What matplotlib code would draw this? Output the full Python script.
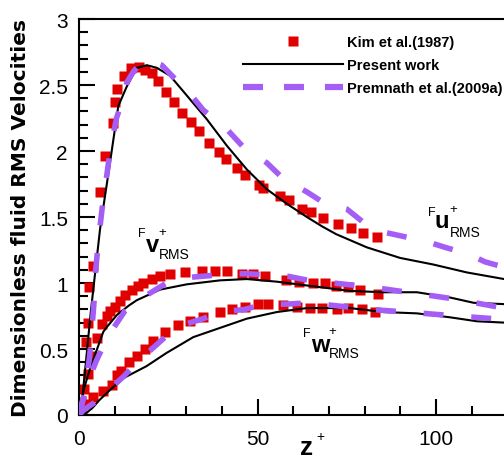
import numpy as np
import matplotlib
matplotlib.use("Agg")
import matplotlib.pyplot as plt
from matplotlib.lines import Line2D
from matplotlib.ticker import MultipleLocator, FuncFormatter
from matplotlib import font_manager

##############################################
### values ###
##############################################

# Kim et al. (1987) - red squares
kim_u_z = [2.0, 2.4, 2.9, 4.0, 5.9, 7.4, 9.4, 10.2, 10.7, 12.6, 14.5, 16.9, 18.4, 20.4,
           22.1, 24.3, 26.6, 28.7, 31.3, 33.5, 36.5, 39.1, 41.2, 44.3, 46.6, 50.3, 51.6,
           56.3, 58.7, 62.3, 64.9, 68.4, 72.5, 76.3, 79.5, 83.4]
kim_u = [0.55, 0.70, 0.97, 1.13, 1.69, 1.96, 2.21, 2.37, 2.47, 2.57, 2.63, 2.64, 2.61, 2.59,
         2.53, 2.45, 2.37, 2.29, 2.22, 2.15, 2.06, 1.99, 1.94, 1.87, 1.82, 1.74, 1.72,
         1.66, 1.63, 1.56, 1.54, 1.49, 1.45, 1.42, 1.38, 1.35]

kim_v_z = [0.5, 1.4, 2.5, 3.7, 4.9, 6.4, 7.7, 8.7, 10.0, 11.5, 13.0, 14.8, 16.4, 18.0,
           20.4, 22.7, 25.5, 29.7, 34.4, 38.1, 41.4, 45.6, 48.8, 52.1, 58.0, 61.5, 65.5,
           68.9, 72.0, 75.4, 78.7, 83.8]
kim_v = [0.10, 0.20, 0.31, 0.45, 0.58, 0.69, 0.75, 0.79, 0.82, 0.86, 0.91, 0.95, 0.98, 1.00,
         1.03, 1.05, 1.07, 1.08, 1.09, 1.09, 1.09, 1.07, 1.07, 1.05, 1.02, 1.01, 1.00,
         1.00, 0.98, 0.97, 0.95, 0.92]

kim_w_z = [0.7, 2.1, 4.0, 6.8, 9.2, 10.5, 11.7, 14.0, 16.2, 18.5, 20.8, 24.1, 27.8, 31.1,
           34.8, 39.5, 42.8, 46.5, 50.2, 53.0, 57.0, 61.0, 64.7, 68.0, 72.2, 75.4, 79.2, 82.9]
kim_w = [0.00, 0.08, 0.14, 0.18, 0.23, 0.30, 0.33, 0.40, 0.45, 0.50, 0.56, 0.63, 0.68, 0.71,
         0.74, 0.78, 0.80, 0.82, 0.84, 0.84, 0.83, 0.82, 0.81, 0.81, 0.80, 0.81, 0.80, 0.78]

# Present work - black line
pw_u_z = [0, 0.9, 2.0, 3.3, 4.2, 5.9, 8.4, 11.0, 13.4, 16.2, 19.0, 21.8, 25.5, 30.2, 35.8,
          41.4, 47.0, 52.6, 58.2, 63.8, 68.0, 72.0, 80.6, 89.9, 99.2, 108.6, 119.0]
pw_u = [0, 0.12, 0.42, 0.78, 1.00, 1.41, 1.86, 2.34, 2.49, 2.63, 2.65, 2.63, 2.57, 2.42, 2.24,
        2.04, 1.86, 1.71, 1.60, 1.50, 1.43, 1.37, 1.27, 1.19, 1.14, 1.08, 1.03]

pw_v_z = [0, 1.4, 3.3, 4.0, 5.6, 6.8, 7.9, 10.7, 14.0, 16.2, 22.7, 30.2, 39.5, 47.0, 55.4,
          64.2, 75.9, 85.2, 94.6, 103.9, 110.5, 119.0]
pw_v = [0, 0.20, 0.37, 0.42, 0.54, 0.63, 0.67, 0.76, 0.83, 0.87, 0.95, 0.99, 1.02, 1.03, 1.01,
        0.98, 0.94, 0.93, 0.93, 0.89, 0.85, 0.84]

pw_w_z = [0, 2.3, 4.0, 5.6, 8.7, 12.5, 18.9, 24.5, 32.0, 39.5, 47.0, 55.4, 63.8, 75.9, 85.2,
          94.6, 103.9, 111.4, 119.0]
pw_w = [0, 0.02, 0.06, 0.11, 0.19, 0.28, 0.37, 0.47, 0.59, 0.66, 0.73, 0.78, 0.81, 0.81, 0.78,
        0.77, 0.74, 0.71, 0.70]

# Premnath et al. (2009a) - purple dashes
pr_u_z = [0, 1.5, 3.0, 4.2, 4.5, 5.6, 6.5, 7.5, 8.7, 10.5, 12.4, 13.4, 15.2, 17.1, 18.5, 21.0,
          23.2, 26.4, 29.7, 34.8, 40.9, 46.0, 52.6, 57.2, 63.8, 68.4, 75.0, 79.6, 86.2, 91.3,
          97.8, 102.5, 109.0, 113.7, 119.0]
pr_u = [0, 0.15, 0.45, 0.85, 1.05, 1.36, 1.57, 1.76, 2.00, 2.25, 2.40, 2.52, 2.60, 2.66, 2.69,
        2.67, 2.65, 2.56, 2.48, 2.31, 2.18, 2.03, 1.91, 1.79, 1.69, 1.61, 1.56, 1.46, 1.38,
        1.35, 1.31, 1.27, 1.22, 1.16, 1.12]

pr_v_z = [0, 2.0, 5.0, 8.2, 12.9, 18.5, 24.5, 29.7, 38.6, 41.4, 47.4, 53.0, 58.7, 64.3, 81.5,
          94.6, 104.9, 117.0, 119.0]
pr_v = [0, 0.22, 0.42, 0.60, 0.79, 0.90, 1.00, 1.04, 1.06, 1.07, 1.07, 1.06, 1.05, 1.02, 0.97,
        0.92, 0.88, 0.82, 0.81]

pr_w_z = [0, 1.4, 4.1, 8.0, 12.4, 17.1, 24.1, 28.8, 34.8, 39.5, 46.5, 51.6, 58.2, 64.2, 71.2,
          81.5, 96.4, 105.8, 116.0, 119.0]
pr_w = [0, 0.04, 0.09, 0.18, 0.29, 0.42, 0.59, 0.68, 0.73, 0.78, 0.80, 0.84, 0.84, 0.85, 0.83,
        0.80, 0.77, 0.75, 0.73, 0.72]

legend_labels = ["Kim et al.(1987)", "Present work", "Premnath et al.(2009a)"]

#########################
### plotting the data ###
#########################

RED = "#e00000"
PURPLE = "#a55ef5"

installed = {f.name for f in font_manager.fontManager.ttflist}
if "Liberation Sans Narrow" in installed:
    legend_font = dict(family="Liberation Sans Narrow", weight="bold", size=12.7)
else:
    legend_font = dict(family="Liberation Sans", weight="bold", size=10.5)

plt.rcParams["font.family"] = ["Liberation Sans", "DejaVu Sans"]
plt.rcParams["lines.scale_dashes"] = False

W, H = 504, 460
fig = plt.figure(figsize=(W / 100, H / 100), dpi=100)
ax = fig.add_axes([79 / W, 44 / H, (W - 79) / W, 396 / H])

dash = (14.4, 20.0)
for z, v in ((kim_u_z, kim_u), (kim_v_z, kim_v), (kim_w_z, kim_w)):
    ax.plot(z, v, ls="none", marker="s", ms=6.5, mfc=RED, mec="none", zorder=2)
for z, v in ((pw_u_z, pw_u), (pw_v_z, pw_v), (pw_w_z, pw_w)):
    ax.plot(z, v, color="black", lw=1.5, zorder=3)
for z, v in ((pr_u_z, pr_u), (pr_v_z, pr_v), (pr_w_z, pr_w)):
    ax.plot(z, v, color=PURPLE, lw=4, dashes=dash, zorder=4)

ax.set_xlim(0, 119.0)
ax.set_ylim(0, 3)
ax.spines["right"].set_visible(False)
for s in ("left", "bottom", "top"):
    ax.spines[s].set_linewidth(1.5)

ax.xaxis.set_major_locator(MultipleLocator(50))
ax.xaxis.set_minor_locator(MultipleLocator(10))
ax.yaxis.set_major_locator(MultipleLocator(0.5))
ax.yaxis.set_minor_locator(MultipleLocator(0.1))
ax.yaxis.set_major_formatter(FuncFormatter(lambda v, p: "%g" % v))
ax.tick_params(which="both", direction="in", width=1.5, labelsize=15,
               top=False, right=False)
ax.tick_params(which="major", length=11.5)
ax.tick_params(which="minor", length=6.5)
ax.tick_params(axis="y", pad=8)
ax.tick_params(axis="x", pad=10)

ax.set_ylabel("Dimensionless fluid RMS Velocities", family="DejaVu Sans",
              weight="bold", fontsize=14.5, labelpad=6)

# x label z+
fig.text(307 / W, 1 - 455 / H, "z", fontsize=19, weight="bold", ha="center", va="baseline")
fig.text(320 / W, 1 - 437 / H, "+", fontsize=10, ha="center", va="center")

# curve labels  (main letter centre / baseline in px, offsets of F, + and RMS in px)
def curveLabel(px, py, letter, offF, offP, offR):
    z = (px - 79) / 3.57
    val = (416 - py) / 132
    ax.text(z, val, letter, fontsize=17, weight="bold", ha="center", va="baseline")
    for txt, off, size, va in (("F", offF, 9, "baseline"), ("+", offP, 9.5, "center"),
                               ("RMS", offR, 10, "baseline")):
        ax.annotate(txt, (z, val), xytext=(off[0] * 0.72, -off[1] * 0.72),
                    textcoords="offset points", fontsize=size, ha="center", va=va)

curveLabel(152, 252, "v", (-10, -15), (10, -19), (22, 7))
curveLabel(442, 228, "u", (-10, -12), (11, -18), (23, 9))
curveLabel(320, 352, "w", (-13, -15), (12, -20), (24, 6))

handles = [Line2D([], [], ls="none", marker="s", ms=6.5, mfc=RED, mec="none"),
           Line2D([], [], color="black", lw=1.5),
           Line2D([], [], color=PURPLE, lw=4.5, dashes=(14.4, 15.1))]
fs = legend_font["size"] * 100 / 72
ax.legend(handles, legend_labels, loc="upper left",
          bbox_to_anchor=(243 / W, 1 - 36 / H), bbox_transform=fig.transFigure,
          frameon=False, borderpad=0, borderaxespad=0, numpoints=1,
          handlelength=100 / fs, handletextpad=4 / fs, labelspacing=0.62,
          prop=legend_font)

fig.savefig("out.png", dpi=100)
